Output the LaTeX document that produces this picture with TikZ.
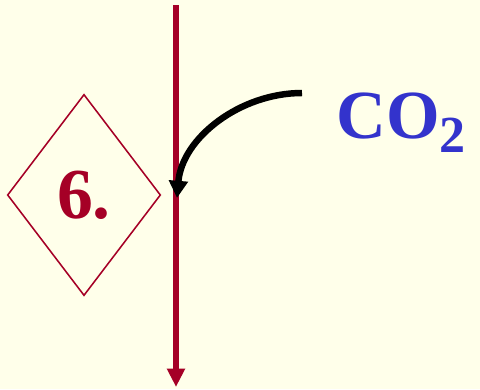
\documentclass[tikz,border=0pt]{standalone}
\usepackage{fontspec}
\setmainfont{Liberation Serif}
\usepackage{tikz}
\usetikzlibrary{shapes.geometric, arrows.meta}

\definecolor{paper}{HTML}{FFFFEA}
\definecolor{darkred}{HTML}{A50026}
\definecolor{gasblue}{HTML}{3333CC}

\begin{document}
\begin{tikzpicture}[x=0.025cm, y=-0.025cm]
  % Background
  \fill[paper] (0,0) rectangle (480,389);
  \useasboundingbox (0,0) rectangle (480,389);

  % Main pathway line
  \coordinate (axtop) at (176,5);
  \coordinate (axbot) at (176,387);
  \draw[darkred, line width=4.2pt, -{Triangle[length=4.6mm, width=4.3mm]}] (axtop) -- (axbot);

  % Step marker
  \node[diamond, draw=darkred, line width=1.1pt, inner sep=0pt,
        minimum width=3.83cm, minimum height=5.03cm, text=darkred,
        font=\fontsize{51}{51}\selectfont\bfseries] (stage) at (84,195) {6.};

  % Carbon dioxide input
  \node[anchor=base west, inner sep=0pt, text=gasblue,
        font=\fontsize{49}{49}\selectfont\bfseries] (gas) at (336,138)
        {CO\raisebox{-10.6pt}{\fontsize{37}{37}\selectfont 2}};
  \coordinate (arrstart) at (302,93);
  \coordinate (arrend) at (177,198);
  \draw[line width=4.6pt, -{Triangle[length=4.3mm, width=4.6mm]}]
    (arrstart) .. controls (240,93) and (182,138) .. (arrend);
\end{tikzpicture}
\end{document}
